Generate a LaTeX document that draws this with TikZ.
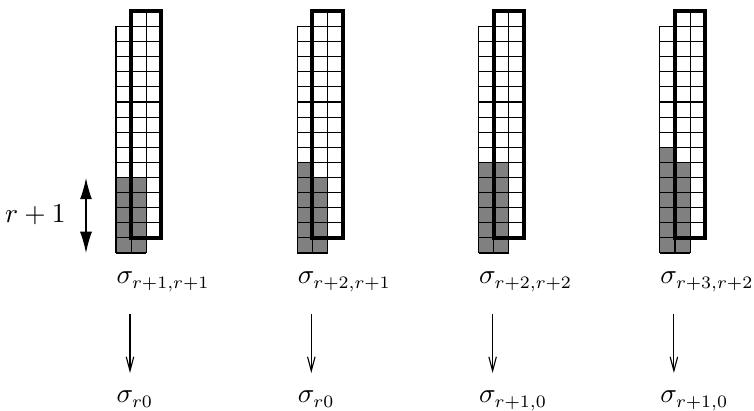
\documentclass[tikz,border=0pt]{standalone}
\usetikzlibrary{arrows.meta}
\begin{document}
\begin{tikzpicture}[x=0.4pt,y=-0.4pt,
  font=\fontsize{10.6}{13}\selectfont,
  cellline/.style={line width=0.42pt},
  shade/.style={fill=black!50},
  frame/.style={line width=1.6pt},
  lbl/.style={inner sep=0pt,anchor=base west},
  mapto/.style={line width=0.45pt,-{Straight Barb[length=5.6pt,width=3pt]}},
  span/.style={line width=0.45pt,{Latex[length=8.5pt,width=4.8pt]}-{Latex[length=8.5pt,width=4.8pt]}}]
\useasboundingbox (0,0) rectangle (754,411);

% four diagrams: shaded heights of the first two columns and the labels
\foreach \k/\ga/\gb/\lab/\low in {0/5/5/{r+1,r+1}/{r0},
                                  1/6/5/{r+2,r+1}/{r0},
                                  2/6/6/{r+2,r+2}/{r+1,0},
                                  3/7/6/{r+3,r+2}/{r+1,0}}{
  \pgfmathsetmacro\xo{116+181.3*\k}
  \begin{scope}[shift={(\xo,253)},x=6.04pt,y=6.04pt]
    \fill[shade] (0,0) rectangle (1,\ga);
    \fill[shade] (1,0) rectangle (2,\gb);
    \draw[cellline,step=1] (0,0) grid (1,15);
    \draw[cellline,step=1] (1,0) grid (2,16);
    \draw[cellline,step=1] (2,1) grid (3,16);
    \draw[frame] (1,1) rectangle (3,16);
  \end{scope}
  \node[lbl] (top\k) at (\xo,284) {$\sigma_{\lab}$};
  \coordinate (s\k) at (\xo+14,314);
  \coordinate (e\k) at (\xo+14,373);
  \draw[mapto] (s\k) -- (e\k);
  \node[lbl] (bot\k) at (\xo,403) {$\sigma_{\low}$};
}

% height marker on the left
\node[inner sep=0pt,anchor=base east] (rlab) at (66,223) {$r+1$};
\coordinate (spt) at (86,178);
\coordinate (spb) at (86,253);
\draw[span] (spt) -- (spb);
\end{tikzpicture}
\end{document}
